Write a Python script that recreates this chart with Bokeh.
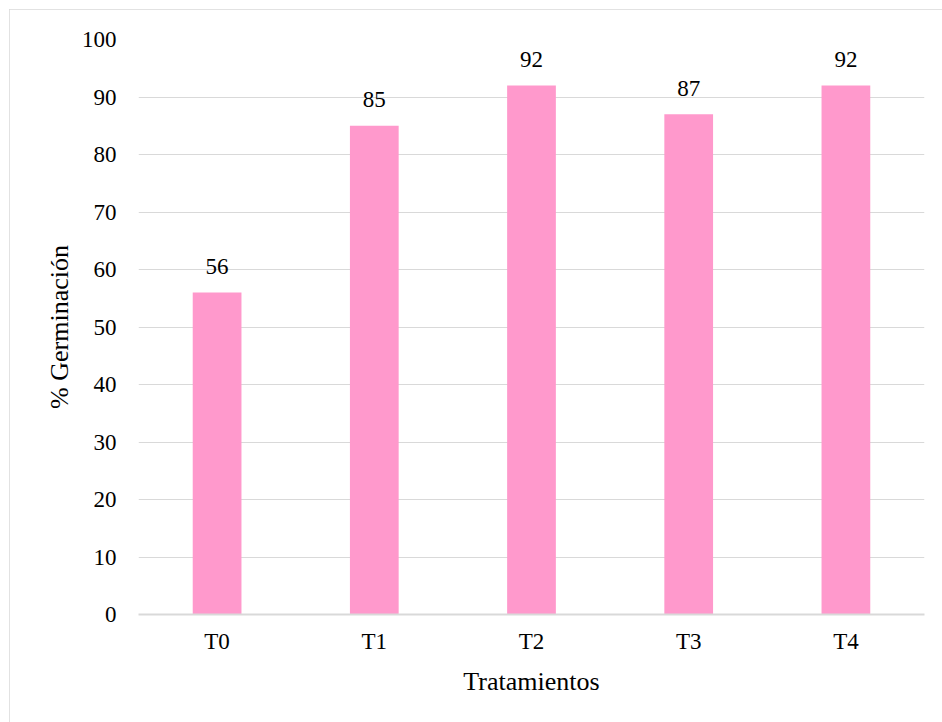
from bokeh.plotting import figure
from bokeh.models import ColumnDataSource, FixedTicker
from bokeh.core.properties import value
from bokeh.embed import file_html
from bokeh.resources import INLINE

# Germination percentage per treatment
tratamientos = ["T0", "T1", "T2", "T3", "T4"]
germinacion = [56, 85, 92, 87, 92]
y_ticks = [0, 10, 20, 30, 40, 50, 60, 70, 80, 90, 100]

FONT = "'Liberation Serif', 'Times New Roman', serif"
GRID = "#d9d9d9"
BAR = "#ff99cc"

source = ColumnDataSource(data=dict(
    trat=tratamientos,
    pct=germinacion,
    lbl=[str(v) for v in germinacion],
))

p = figure(
    x_range=tratamientos,
    y_range=(0, 100),
    width=933,
    height=713,
    output_backend="svg",
    toolbar_location=None,
    min_border_left=129,
    min_border_right=18,
    min_border_top=30,
    min_border_bottom=108,
)
p.margin = (9, 0, 0, 9)
p.styles = {"outline": "1px solid #d9d9d9", "outline-offset": "-1px"}

p.vbar(x="trat", top="pct", width=0.31, source=source,
       fill_color=BAR, line_color=None)

# value labels above each bar
p.text(x="trat", y="pct", text="lbl", source=source,
       text_align="center", text_baseline="alphabetic",
       y_offset=-26, text_font=value(FONT), text_font_size="23px",
       text_color="#000000")

p.outline_line_color = None
p.xgrid.grid_line_color = None
p.ygrid.grid_line_color = GRID
p.ygrid.grid_line_width = 1
p.yaxis.ticker = FixedTicker(ticks=y_ticks)

p.yaxis.axis_line_color = None
p.yaxis.major_tick_line_color = None
p.yaxis.minor_tick_line_color = None
p.yaxis.major_tick_out = 0
p.yaxis.major_label_standoff = 22
p.yaxis.axis_label = "% Germinación"
p.yaxis.axis_label_standoff = 5

p.xaxis.axis_line_color = GRID
p.xaxis.axis_line_width = 2
p.xaxis.major_tick_line_color = None
p.xaxis.minor_tick_line_color = None
p.xaxis.major_tick_out = 0
p.xaxis.major_label_standoff = 14
p.xaxis.axis_label = "Tratamientos"
p.xaxis.axis_label_standoff = 10

for ax in (p.xaxis[0], p.yaxis[0]):
    ax.major_label_text_font = FONT
    ax.major_label_text_font_size = "23px"
    ax.major_label_text_color = "#000000"
    ax.axis_label_text_font = FONT
    ax.axis_label_text_font_size = "26px"
    ax.axis_label_text_font_style = "normal"
    ax.axis_label_text_color = "#000000"

open("out.html", "w").write(file_html(p, INLINE))
